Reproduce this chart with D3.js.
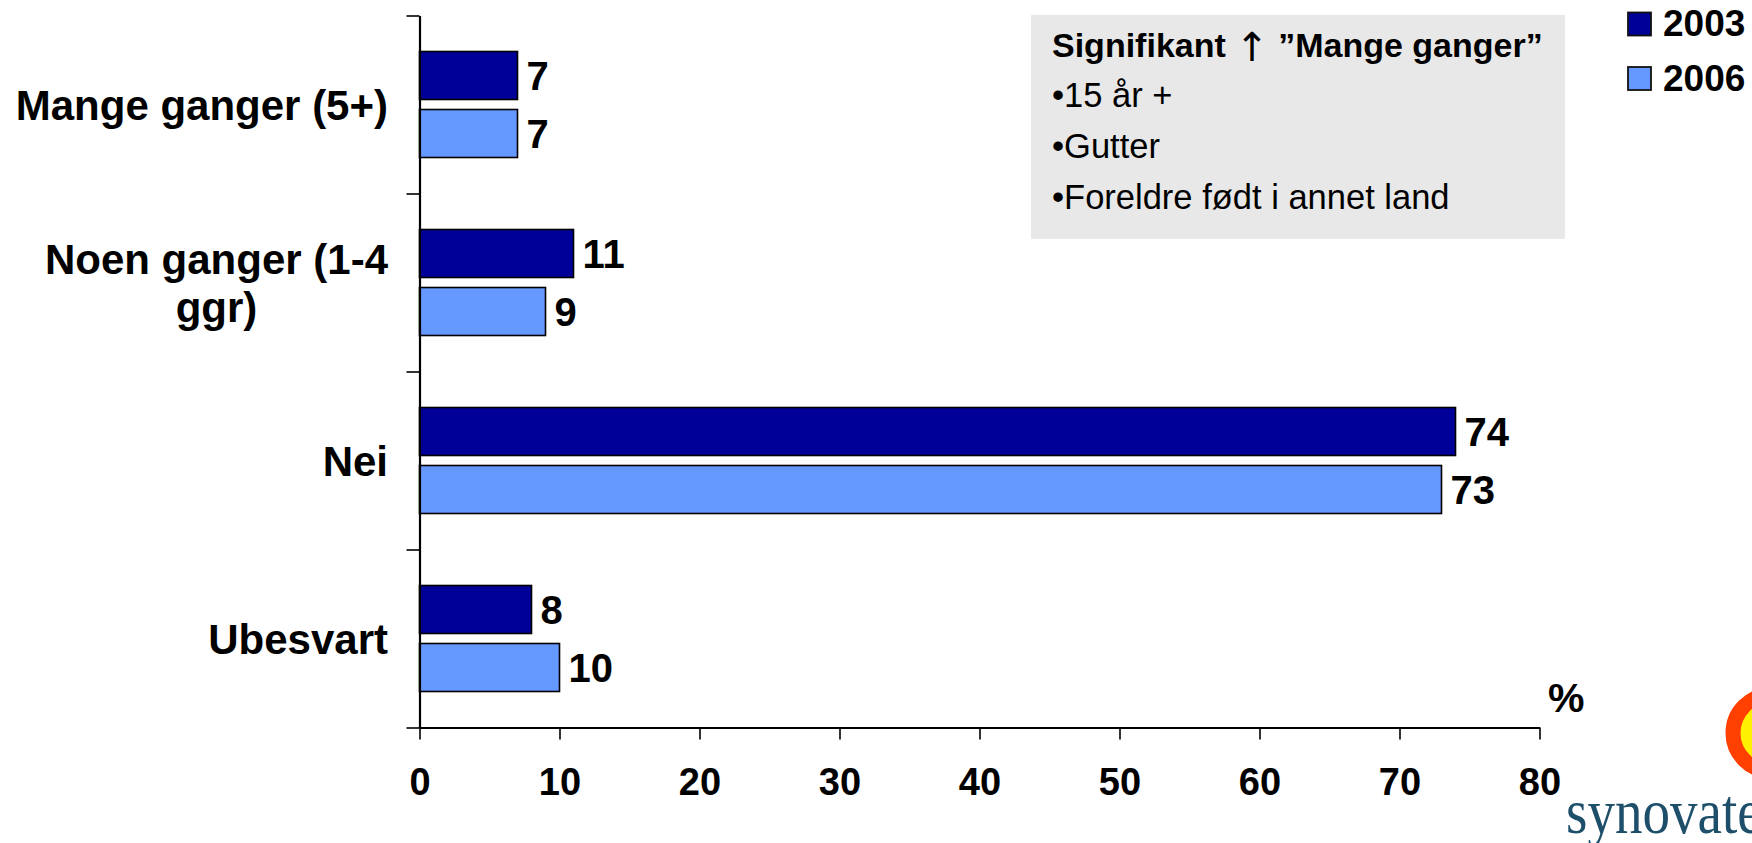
<!DOCTYPE html>
<html>
<head>
<meta charset="utf-8">
<script src="https://cdn.jsdelivr.net/npm/d3@7"></script>
<style>
  html, body { margin: 0; padding: 0; background: #fff; }
  svg { display: block; font-family: "Liberation Sans", Arial, sans-serif; }
</style>
</head>
<body>
<svg id="chart" width="1752" height="843"></svg>
<script>
// ---- data ----
const categories = ["Mange ganger (5+)", "Noen ganger (1-4\nggr)", "Nei", "Ubesvart"];
const years = ["2003", "2006"];
const values2003 = [7, 11, 74, 8];
const values2006 = [7, 9, 73, 10];
const xTicks = [0, 10, 20, 30, 40, 50, 60, 70, 80];
const yearColors = ["#000099", "#6699FF"];
const noteTitleA = "Signifikant ";
const noteArrow = "\u2191";
const noteTitleB = " \u201DMange ganger\u201D";
const noteLines = ["\u202215 år +", "\u2022Gutter", "\u2022Foreldre født i annet land"];
const unitLabel = "%";
const logoText = "synovate";

// ---- layout ----
const svg = d3.select("#chart");
const x = d3.scaleLinear().domain([0, 80]).range([419.5, 1539.5]);
const yTop = 15.5, yBot = 727.5;
const y = d3.scaleBand().domain(categories).range([yTop, yBot])
  .paddingInner(72 / 178).paddingOuter(36 / 178);
const ySub = d3.scaleBand().domain(years).range([0, y.bandwidth()]).paddingInner(10 / 58);
const yEdges = d3.scaleLinear().domain([0, categories.length]).range([yTop, yBot]);

const rows = categories.map((c, i) => ({cat: c, vals: [values2003[i], values2006[i]]}));

// bars
const groups = svg.append("g").selectAll("g").data(rows).join("g")
  .attr("transform", d => `translate(0,${y(d.cat)})`);
groups.selectAll("rect").data(d => d.vals.map((v, j) => ({v, year: years[j], j})))
  .join("rect")
  .attr("x", x(0))
  .attr("y", d => ySub(d.year))
  .attr("width", d => x(d.v) - x(0))
  .attr("height", ySub.bandwidth())
  .attr("fill", d => yearColors[d.j])
  .attr("stroke", "#000")
  .attr("stroke-width", 1.6);
groups.selectAll("text").data(d => d.vals.map((v, j) => ({v, year: years[j], j})))
  .join("text")
  .attr("x", d => x(d.v) + 9)
  .attr("y", d => ySub(d.year) + ySub.bandwidth() / 2)
  .attr("dy", "0.36em")
  .attr("font-size", 40)
  .attr("font-weight", "bold")
  .attr("fill", "#000")
  .text(d => d.v);

// x axis
const xAxis = svg.append("g")
  .attr("transform", `translate(0,${yBot})`)
  .call(d3.axisBottom(x).tickValues(xTicks).tickSize(12).tickSizeOuter(0).tickPadding(29));
xAxis.select(".domain").attr("stroke", "#000").attr("stroke-width", 2.2);
xAxis.selectAll(".tick line").attr("stroke", "#000").attr("stroke-width", 1.6);
xAxis.selectAll(".tick text")
  .attr("font-size", 38).attr("font-weight", "bold").attr("fill", "#000")
  .attr("font-family", "Liberation Sans, Arial, sans-serif");

// y axis (ticks at category edges)
const yAxis = svg.append("g")
  .attr("transform", `translate(${x(0)},0)`)
  .call(d3.axisLeft(yEdges).tickValues(d3.range(categories.length + 1)).tickFormat("").tickSize(13).tickSizeOuter(0));
yAxis.select(".domain").attr("stroke", "#000").attr("stroke-width", 2.2);
yAxis.selectAll(".tick line").attr("stroke", "#000").attr("stroke-width", 1.6);

// category labels
const labelRight = 388;
categories.forEach(c => {
  const lines = c.split("\n");
  const cy = y(c) + y.bandwidth() / 2;
  const lh = 48;
  const t = svg.append("text")
    .attr("font-size", 42).attr("font-weight", "bold").attr("fill", "#000");
  const spans = lines.map((ln, i) => t.append("tspan")
    .attr("y", cy + (i - (lines.length - 1) / 2) * lh)
    .attr("dy", "0.36em")
    .text(ln));
  if (lines.length === 1) {
    t.attr("text-anchor", "end");
    spans[0].attr("x", labelRight);
  } else {
    const w = d3.max(spans, s => s.node().getComputedTextLength());
    t.attr("text-anchor", "middle");
    spans.forEach(s => s.attr("x", labelRight - w / 2));
  }
});

// note box
svg.append("rect").attr("x", 1031).attr("y", 15).attr("width", 534).attr("height", 224)
  .attr("fill", "#E8E8E8");
const title = svg.append("text").attr("x", 1052).attr("y", 57)
  .attr("font-size", 34).attr("font-weight", "bold").attr("fill", "#000");
title.append("tspan").text(noteTitleA);
title.append("tspan").attr("font-weight", "normal").attr("font-size", 40)
  .attr("font-family", "DejaVu Sans, sans-serif").attr("dy", 4).text(noteArrow);
title.append("tspan").attr("dy", -4).text(noteTitleB);
noteLines.forEach((ln, i) => {
  svg.append("text").attr("x", 1052).attr("y", 107 + i * 51)
    .attr("font-size", 34.5).attr("fill", "#000").text(ln);
});

// legend
years.forEach((yr, i) => {
  svg.append("rect").attr("x", 1628).attr("y", 12.5 + i * 54.5).attr("width", 23).attr("height", 23)
    .attr("fill", yearColors[i]).attr("stroke", "#111").attr("stroke-width", 1.8);
  svg.append("text").attr("x", 1663).attr("y", 36 + i * 54.5)
    .attr("font-size", 37).attr("font-weight", "bold").attr("fill", "#000").text(yr);
});

// unit label
svg.append("text").attr("x", 1548).attr("y", 712)
  .attr("font-size", 41).attr("font-weight", "bold").attr("fill", "#000").text(unitLabel);

// logo
svg.append("circle").attr("cx", 1771).attr("cy", 733).attr("r", 38)
  .attr("fill", "#FFF200").attr("stroke", "#FF4000").attr("stroke-width", 15);
svg.append("text").attr("transform", "translate(1566,833) scale(0.86,1)")
  .attr("font-family", "Liberation Serif, Times New Roman, serif")
  .attr("font-size", 64).attr("fill", "#1D4F6B").text(logoText);
</script>
</body>
</html>
